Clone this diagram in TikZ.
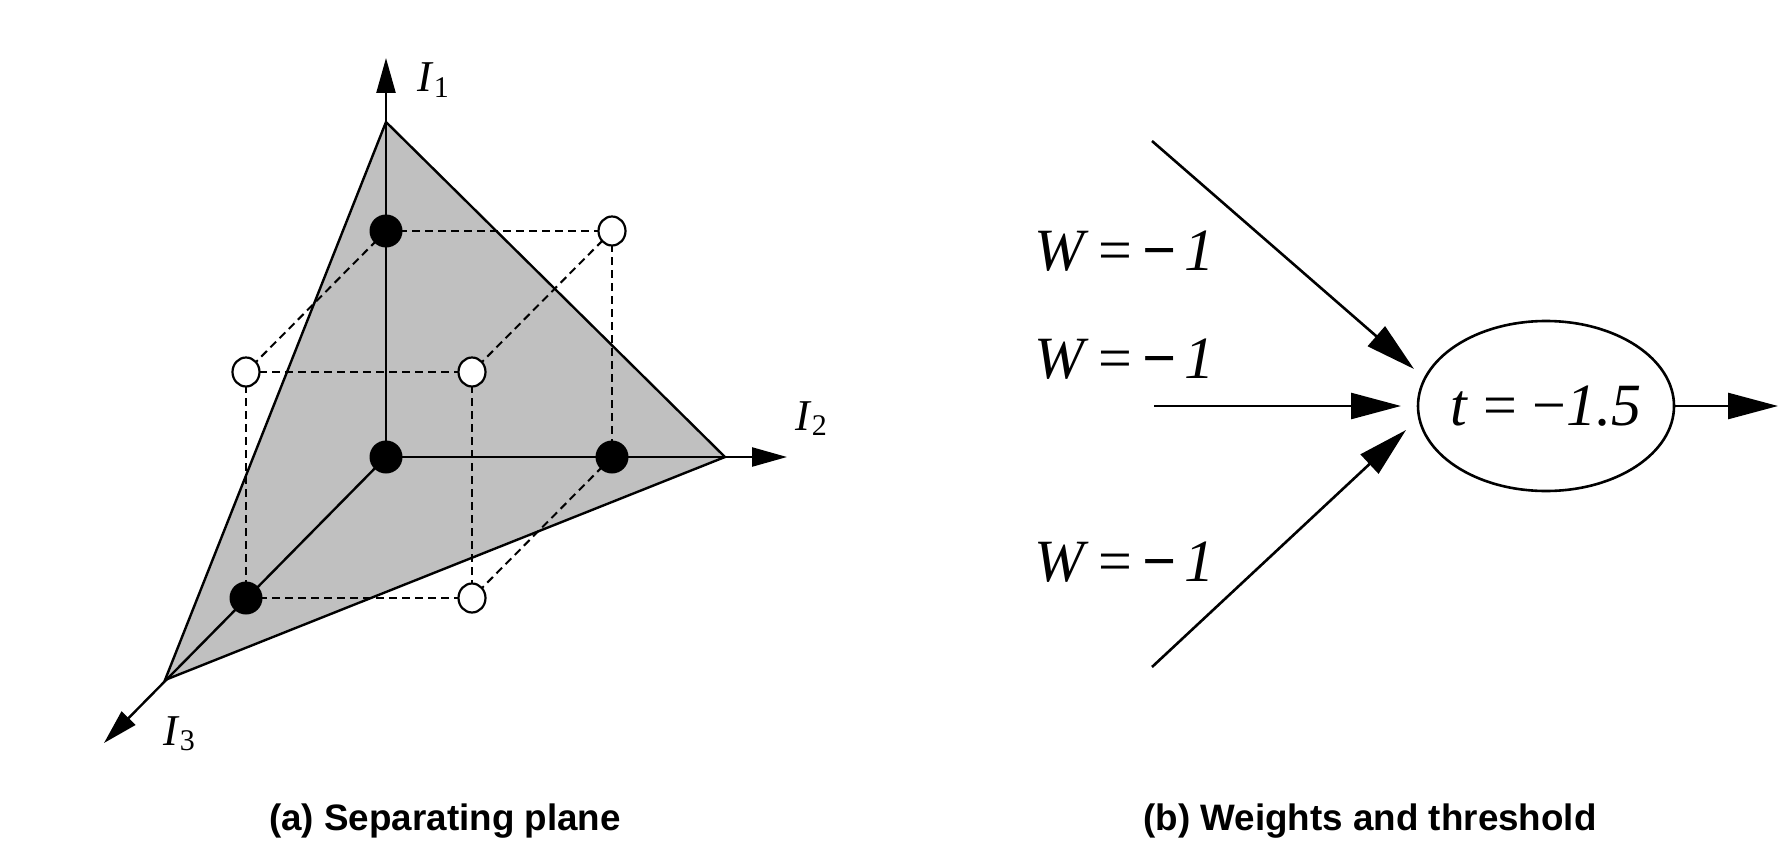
\documentclass[tikz,border=0pt]{standalone}
\usepackage{fontspec}
\setmainfont{Liberation Serif}
\newfontfamily\capfont{Liberation Sans}
\usetikzlibrary{arrows.meta,shapes.geometric}
\definecolor{planegray}{RGB}{192,192,192}
\begin{document}
\begin{tikzpicture}[x=0.5pt,y=-0.5pt,
  edge/.style={line width=1.2pt},
  dashedge/.style={line width=1pt, dash pattern=on 4pt off 2.5pt},
  axisarrow/.style={line width=1.2pt, -{Triangle[length=17.5pt,width=9.5pt]}},
  inarrow/.style={line width=1.3pt, -{Triangle[length=25pt,width=13pt]}},
  blackdot/.style={circle, fill=black, minimum size=16.5pt, inner sep=0pt},
  opendot/.style={ellipse, draw=black, fill=white, line width=1.1pt, minimum width=13.5pt, minimum height=14.5pt, inner sep=0pt},
  axislabel/.style={anchor=base west, inner sep=0pt, font=\fontsize{22}{22}\selectfont},
  wlabel/.style={anchor=base west, inner sep=0pt, font=\fontsize{30}{30}\selectfont},
  unitnode/.style={ellipse, draw, line width=1.3pt, minimum width=128pt, minimum height=85pt, inner sep=0pt, font=\fontsize{30}{30}\selectfont},
  captext/.style={anchor=base, inner sep=0pt, font=\capfont\bfseries\fontsize{18.4}{20}\selectfont},
]
\useasboundingbox (0,0) rectangle (1792,856);

% ---------- (a) separating plane ----------
\coordinate (O) at (386,457);
\coordinate (P1) at (386,231);
\coordinate (P2) at (612,457);
\coordinate (P3) at (246,598);
\coordinate (P12) at (612,231);
\coordinate (P13) at (246,372);
\coordinate (P23) at (472,598);
\coordinate (P123) at (472,372);
\coordinate (A1) at (386,122);
\coordinate (A2) at (725,457);
\coordinate (A3) at (165,680);
\coordinate (T1) at (386,58);
\coordinate (T2) at (787,457);
\coordinate (T3) at (104,743);

\filldraw[edge, fill=planegray] (A1) -- (A2) -- (A3) -- cycle;

\draw[dashedge] (P1) -- (P12);
\draw[dashedge] (P1) -- (P13);
\draw[dashedge] (P12) -- (P123);
\draw[dashedge] (P12) -- (P2);
\draw[dashedge] (P13) -- (P123);
\draw[dashedge] (P13) -- (P3);
\draw[dashedge] (P123) -- (P23);
\draw[dashedge] (P3) -- (P23);
\draw[dashedge] (P2) -- (P23);

\draw[axisarrow] (O) -- (T1);
\draw[axisarrow] (O) -- (T2);
\draw[axisarrow] (O) -- (T3);

\node[blackdot] (dO) at (O) {};
\node[blackdot] (d1) at (P1) {};
\node[blackdot] (d2) at (P2) {};
\node[blackdot] (d3) at (P3) {};
\node[opendot] (d12) at (P12) {};
\node[opendot] (d13) at (P13) {};
\node[opendot] (d23) at (P23) {};
\node[opendot] (d123) at (P123) {};

\node[axislabel] (l1) at (417,92) {\textit{I}\raisebox{-2.5pt}{\fontsize{15}{15}\selectfont 1}};
\node[axislabel] (l2) at (795,430) {\textit{I}\raisebox{-2.5pt}{\fontsize{15}{15}\selectfont 2}};
\node[axislabel] (l3) at (163,745) {\textit{I}\raisebox{-2.5pt}{\fontsize{15}{15}\selectfont 3}};

\node[captext] (capa) at (445,830) {(a) Separating plane};

% ---------- (b) weights and threshold ----------
\node[unitnode] (unit) at (1546,406) {\makebox[0pt]{\textit{t} = −\textit{1.5}}};

\coordinate (s1) at (1152,141);
\coordinate (h1) at (1414,369);
\coordinate (s2) at (1154,406);
\coordinate (h2) at (1401,406);
\coordinate (s3) at (1152,667);
\coordinate (h3) at (1406,430);
\coordinate (out) at (1778,406);

\draw[inarrow] (s1) -- (h1);
\draw[inarrow] (s2) -- (h2);
\draw[inarrow] (s3) -- (h3);
\draw[inarrow] (unit.east) -- (out);

\node[wlabel] (w1) at (1034,270) {\textit{W}\hspace{5pt}=\hspace{5pt}{\bfseries −}\hspace{4pt}\textit{1}};
\node[wlabel] (w2) at (1034,378) {\textit{W}\hspace{5pt}=\hspace{5pt}{\bfseries −}\hspace{4pt}\textit{1}};
\node[wlabel] (w3) at (1034,581) {\textit{W}\hspace{5pt}=\hspace{5pt}{\bfseries −}\hspace{4pt}\textit{1}};

\node[captext] (capb) at (1370,830) {(b) Weights and threshold};
\end{tikzpicture}
\end{document}
